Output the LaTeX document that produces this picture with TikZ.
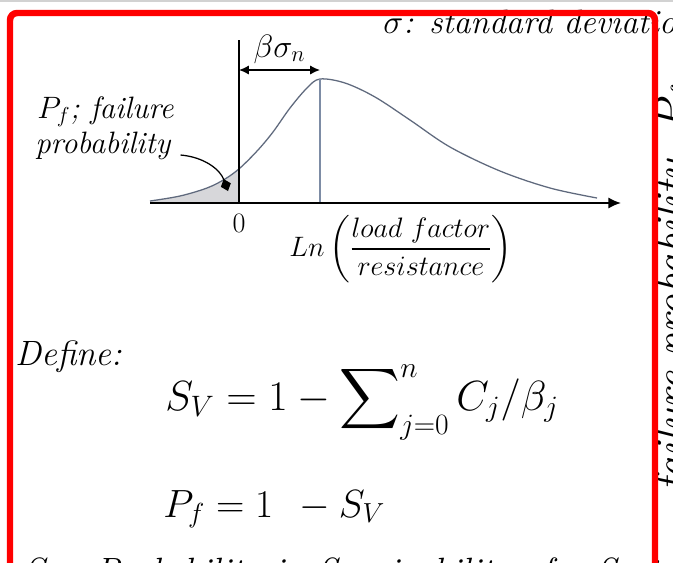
\RequirePackage{fix-cm}
\documentclass[tikz,border=0pt]{standalone}
\usepackage{amsmath,amssymb}
\usepackage{xcolor}
\usetikzlibrary{arrows.meta,positioning,calc}

\definecolor{framered}{RGB}{255,0,0}
\definecolor{curvecol}{RGB}{95,105,125}
\definecolor{peakcol}{RGB}{125,140,165}
\definecolor{tailgray}{RGB}{215,215,218}

\tikzset{
  lbl/.style={font=\fontsize{22}{26}\selectfont\itshape, inner sep=0pt},
  eqn/.style={font=\fontsize{28}{32}\selectfont, inner sep=0pt},
  densityline/.style={curvecol, line width=0.9pt},
  axisline/.style={line width=1.3pt, -{Latex[length=9pt,width=8pt]}},
  dimarrow/.style={line width=1pt, {Latex[length=7pt,width=6.5pt]}-{Latex[length=7pt,width=6.5pt]}},
  pointer/.style={line width=0.9pt, -{Diamond[length=9pt,width=7.5pt]}}
}

% density curve, in pixel units
\newcommand{\densitycurve}{plot[smooth,tension=0.55] coordinates {(150,-201) (180,-196) (207,-188) (225,-179) (240,-168) (258,-150) (273,-132) (290,-108) (307,-88) (320,-79) (345,-83) (375,-97) (410,-120) (450,-147) (500,-171) (550,-188) (597,-198)}}

\begin{document}
\begin{tikzpicture}[x=0.025cm,y=0.025cm]
\useasboundingbox (0,0) rectangle (673,-562);
\clip (0,0) rectangle (673,-562);
\fill[white] (0,0) rectangle (673,-562);
\draw[gray!35,line width=1.5pt] (0,-1) -- (673,-1);

% points of the plot
\coordinate (zero) at (239,-203);
\coordinate (zerotop) at (239,-40);
\coordinate (peak) at (320,-79);
\coordinate (axisstart) at (150,-203);
\coordinate (axisend) at (621,-203);
\coordinate (dimleft) at (239,-70);
\coordinate (dimright) at (320,-70);
\coordinate (tailpt) at (228,-191);

% failure tail
\begin{scope}
\clip (140,0) rectangle (zero);
\fill[tailgray] \densitycurve -- (zero) -- (axisstart) -- cycle;
\end{scope}

\draw[densityline] \densitycurve;
\draw[line width=0.8pt] (zero) -- (zerotop);
\draw[peakcol, line width=0.9pt] (peak) -- (peak |- zero);
\draw[axisline] (axisstart) -- (axisend);
\draw[dimarrow] (dimleft) -- (dimright);

% labels
\node[lbl, font=\fontsize{23}{26}\selectfont, anchor=base] (betalabel) at ($(dimleft)!0.5!(dimright)+(0,13)$) {$\beta\sigma_n$};
\node[lbl, font=\fontsize{24}{28}\selectfont\itshape, anchor=base west] (sigmalabel) at (383,-33) {$\sigma$: standard deviation};
\node[lbl, anchor=base west] (pflabel) at (37,-118) {$P_f$; failure};
\node[lbl, anchor=base west] (problabel) at (35,-153) {probability};
\node[font=\fontsize{20}{24}\selectfont, inner sep=0pt] (zerolabel) at (239,-223) {0};
\node[font=\fontsize{20}{24}\selectfont, inner sep=0pt] (lnlabel) at (401,-249) {$Ln\left(\dfrac{load\ factor}{resistance}\right)$};
\draw[pointer] ($(problabel.base east)+(10,-2)$) to[out=-5, in=110] (tailpt);

% definitions
\node[lbl, font=\fontsize{25}{30}\selectfont\itshape, anchor=base west] (definelabel) at (15,-365) {Define:};
\node[eqn, font=\fontsize{30}{34}\selectfont, anchor=base west] (sveq) at (165,-410) {$\displaystyle S_V = 1 - \sum\nolimits_{j=0}^{n} C_j/\beta_j$};
\node[eqn, anchor=base west] (pfeq) at (163,-517) {$P_f = 1\;\, - S_V$};

% clipped text outside the frame
\node[lbl, font=\fontsize{32}{36}\selectfont\itshape, rotate=90, anchor=base west] (sidelabel) at (686,-493) {failure probability, $P_f$};
\node[lbl, font=\fontsize{26}{30}\selectfont\itshape, anchor=base west] (bottomlabel) at (24,-583) {$S_V$: Probability in Survivability of a System};

% frame
\draw[framered, line width=4.6pt, rounded corners=5pt] (10,-620) -- (10,-13) -- (655,-13) -- (655,-620);
\end{tikzpicture}
\end{document}
